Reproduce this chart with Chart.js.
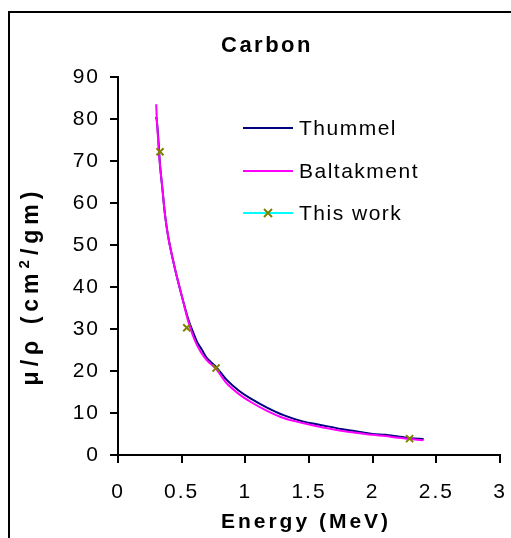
<!DOCTYPE html>
<html>
<head>
<meta charset="utf-8">
<script src="https://cdn.jsdelivr.net/npm/chart.js@4"></script>
<style>
  html, body { margin: 0; padding: 0; overflow: hidden; background: #fff; }
  #wrap { position: relative; width: 511px; height: 538px; overflow: hidden; }
  #frame { position: absolute; left: 8px; top: 11px; width: 600px; height: 600px; border: 2px solid #000; }
  canvas { position: absolute; left: 0; top: 0; }
</style>
</head>
<body>
<div id="wrap">
  <div id="frame"></div>
  <canvas id="chart" width="511" height="538"></canvas>
</div>
<script>
// energies (MeV) and mass attenuation (cm2/gm)
const thummelE  = [0.30, 0.305, 0.315, 0.33, 0.35, 0.37, 0.40, 0.45, 0.50, 0.55, 0.58, 0.62, 0.66, 0.70, 0.77, 0.85, 0.95, 1.05, 1.17, 1.30, 1.45, 1.60, 1.75, 1.90, 2.00, 2.10, 2.20, 2.30, 2.40];
const thummelMu = [80.5, 79.5, 76, 69, 63, 57, 51, 44, 38, 32.5, 30, 27, 25, 23, 21, 18, 15.3, 13.3, 11.3, 9.5, 8.0, 7.1, 6.2, 5.5, 5.0, 4.8, 4.4, 4.0, 3.8];

const baltE  = [0.30, 0.305, 0.315, 0.33, 0.35, 0.37, 0.40, 0.45, 0.50, 0.55, 0.60, 0.65, 0.70, 0.77, 0.85, 0.95, 1.05, 1.17, 1.30, 1.45, 1.60, 1.75, 1.90, 2.00, 2.10, 2.20, 2.30, 2.40];
const baltMu = [83.5, 80, 75, 69, 63, 57, 51, 44, 38, 32, 27.5, 24.5, 22.5, 20.5, 17.2, 14.5, 12.5, 10.5, 8.8, 7.6, 6.6, 5.8, 5.2, 4.8, 4.5, 4.1, 3.8, 3.5];

const workE  = [0.33, 0.54, 0.77, 2.29];
const workMu = [72.2, 30.3, 20.7, 3.9];

const seriesNames = ['Thummel', 'Baltakment', 'This work'];
const chartTitle = 'Carbon';
const xTitle = 'Energy (MeV)';
const yTitle = ['μ/ρ (cm', '2', '/gm)'];   // middle part is the superscript

const FONT = '"Liberation Sans", Arial, sans-serif';
const pts = (xs, ys) => xs.map((x, i) => ({ x, y: ys[i] }));

// Chart.js has no letter spacing option, so set it on the context
const spacing = {
  id: 'spacing',
  beforeLayout(chart) { chart.ctx.letterSpacing = '2px'; },
  beforeDraw(chart) { chart.ctx.letterSpacing = '2px'; }
};

// titles (wide excel spacing, superscript) and the in-plot legend
const texts = {
  id: 'texts',
  afterDraw(chart) {
    const ctx = chart.ctx;
    ctx.save();
    ctx.fillStyle = '#000';
    ctx.textBaseline = 'middle';

    ctx.letterSpacing = '2.5px';
    ctx.font = 'bold 22px ' + FONT;
    ctx.textAlign = 'center';
    ctx.fillText(chartTitle, 267, 46);

    ctx.letterSpacing = '3px';
    ctx.font = 'bold 21px ' + FONT;
    ctx.fillText(xTitle, 306, 522);

    // rotated y title with superscript 2
    ctx.save();
    ctx.translate(32, 286);
    ctx.rotate(-Math.PI / 2);
    ctx.textAlign = 'left';
    ctx.letterSpacing = '5px';
    const big = 'bold 23px ' + FONT, small = 'bold 15px ' + FONT;
    ctx.font = big;
    const w0 = ctx.measureText(yTitle[0]).width;
    const w2 = ctx.measureText(yTitle[2]).width;
    ctx.font = small;
    const w1 = ctx.measureText(yTitle[1]).width;
    let x = -(w0 + w1 + w2) / 2;
    ctx.font = big; ctx.fillText(yTitle[0], x, 0); x += w0;
    ctx.font = small; ctx.fillText(yTitle[1], x, -7); x += w1;
    ctx.font = big; ctx.fillText(yTitle[2], x, 0);
    ctx.restore();

    // legend
    const rows = [
      { y: 128, color: '#000080' },
      { y: 171, color: '#FF00FF' },
      { y: 213, color: '#00FFFF', marker: '#808000' }
    ];
    ctx.letterSpacing = '1.5px';
    ctx.font = '21px ' + FONT;
    ctx.textAlign = 'left';
    rows.forEach((r, i) => {
      ctx.strokeStyle = r.color;
      ctx.lineWidth = 2;
      ctx.beginPath();
      ctx.moveTo(243, r.y);
      ctx.lineTo(293, r.y);
      ctx.stroke();
      if (r.marker) {
        ctx.strokeStyle = r.marker;
        ctx.beginPath();
        ctx.moveTo(264, r.y - 4); ctx.lineTo(272, r.y + 4);
        ctx.moveTo(272, r.y - 4); ctx.lineTo(264, r.y + 4);
        ctx.stroke();
      }
      ctx.fillText(seriesNames[i], 299, r.y + 1);
    });
    ctx.restore();
  }
};

new Chart(document.getElementById('chart'), {
  type: 'scatter',
  data: {
    datasets: [
      { label: seriesNames[0], data: pts(thummelE, thummelMu), showLine: true, borderColor: '#000080', borderWidth: 2, pointRadius: 0, tension: 0.3, order: 2 },
      { label: seriesNames[1], data: pts(baltE, baltMu), showLine: true, borderColor: '#FF00FF', borderWidth: 2, pointRadius: 0, tension: 0.3, order: 1 },
      { label: seriesNames[2], data: pts(workE, workMu), showLine: false, borderColor: '#808000', backgroundColor: '#808000', pointStyle: 'crossRot', pointRadius: 5, pointBorderWidth: 2, order: 0 }
    ]
  },
  options: {
    responsive: false,
    animation: false,
    layout: { padding: { left: 0, right: 11, top: 77, bottom: 0 } },
    plugins: {
      legend: { display: false },
      tooltip: { enabled: false },
      title: { display: false }
    },
    scales: {
      x: {
        type: 'linear', min: 0, max: 3,
        afterFit: s => { s.height = 83; s.paddingLeft = 0; s.paddingRight = 0; },
        ticks: { stepSize: 0.5, color: '#000', padding: 17, maxRotation: 0, callback: v => String(v), font: { size: 21, family: FONT } },
        grid: { drawOnChartArea: false, drawTicks: true, tickLength: 8, color: '#000', lineWidth: 2 },
        border: { color: '#000', width: 2 }
      },
      y: {
        min: 0, max: 90,
        afterFit: s => { s.width = 118; s.paddingTop = 0; s.paddingBottom = 0; },
        ticks: { stepSize: 10, color: '#000', padding: 10, font: { size: 21, family: FONT } },
        grid: { drawOnChartArea: false, drawTicks: true, tickLength: 8, color: '#000', lineWidth: 2 },
        border: { color: '#000', width: 2 }
      }
    }
  },
  plugins: [spacing, texts]
});
</script>
</body>
</html>
